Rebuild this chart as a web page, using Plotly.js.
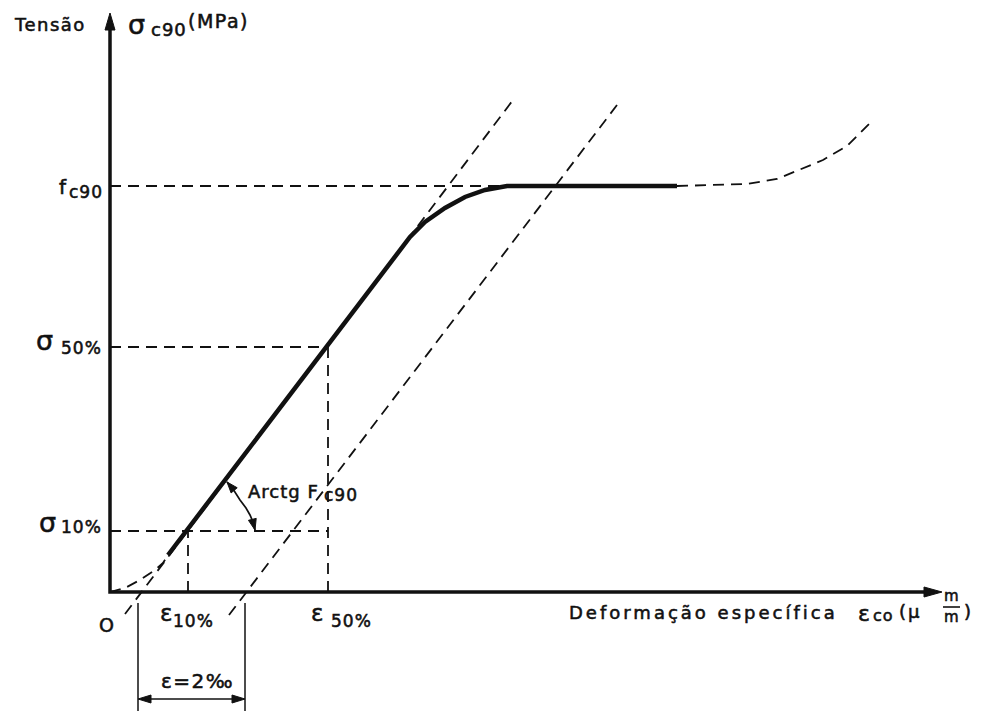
<!DOCTYPE html>
<html>
<head>
<meta charset="utf-8">
<script src="https://cdn.plot.ly/plotly-3.0.1.min.js"></script>
<style>
html,body{margin:0;padding:0;background:#fff;}
#chart{width:990px;height:711px;}
.annotation-text{stroke:#111;stroke-width:0.55px;}
</style>
</head>
<body>
<div id="chart"></div>
<script>
// ---- schematic values (strain units on x, stress units on y) ----
const refStressNames = ['fc90', 'sigma50', 'sigma10'];
const refStress = [406, 245, 61];
const refStressEnd = [397, 218, 218];
const refStrainNames = ['eps10', 'eps50'];
const refStrain = [78, 218];
const refStrainTop = [61, 245];

const toeStrain = [0, 15, 30, 45, 53, 58];
const toeStress = [0, 4, 12, 22, 29, 37];

const curveStrain = [58, 300, 315, 335, 355, 375, 397, 567];
const curveStress = [37, 355, 370, 384, 395, 402, 406, 406];

const tailStrain = [567, 637, 667, 713, 737, 763];
const tailStress = [406, 408, 413, 432, 446, 472];

const tangentStrain = [15, 403];
const tangentStress = [-22, 492];

const offsetLineStrain = [119, 507];
const offsetLineStress = [-23, 487];

const offsetBase = [28, 135];       // ends of the ε = 2‰ dimension
const dimLevel = -107;
const dimTop = -11;
const dimBottom = -119;

const arcStrain = [117, 123, 130, 136, 140, 143, 145];
const arcStress = [110, 103, 92, 84, 77, 70, 62];

const xAxisEnd = 832;
const yAxisEnd = 579;

// ---- helpers ----
const INK = '#111';
function tri(tx, ty, dx, dy, len, hw) {
  const n = Math.hypot(dx, dy); const ux = dx / n, uy = dy / n;
  const bx = tx - ux * len, by = ty - uy * len;
  return {
    x: [tx, bx - uy * hw, bx + uy * hw, tx],
    y: [ty, by + ux * hw, by - ux * hw, ty],
    type: 'scatter', mode: 'lines', fill: 'toself', fillcolor: INK,
    line: {color: INK, width: 1}, hoverinfo: 'skip'
  };
}
function dashed(x, y, w) {
  return {x: x, y: y, type: 'scatter', mode: 'lines',
    line: {color: INK, width: w || 1.8, dash: '11px,7px'}, hoverinfo: 'skip'};
}
function solid(x, y, w) {
  return {x: x, y: y, type: 'scatter', mode: 'lines',
    line: {color: INK, width: w}, hoverinfo: 'skip'};
}

const traces = [];
// reference level lines
refStress.forEach((s, i) => traces.push(dashed([0, refStressEnd[i]], [s, s])));
refStrain.forEach((e, i) => traces.push(dashed([e, e], [0, refStrainTop[i]])));
// construction lines
traces.push(dashed(toeStrain, toeStress));
traces.push(dashed(tangentStrain, tangentStress));
traces.push(dashed(offsetLineStrain, offsetLineStress));
traces.push(dashed(tailStrain, tailStress));
// main curve
traces.push(solid(curveStrain, curveStress, 4.5));
// axes
traces.push(solid([xAxisEnd - 14, 0, 0], [0, 0, yAxisEnd - 14], 3.5));
traces.push(tri(xAxisEnd, 0, 1, 0, 18, 5));
traces.push(tri(0, yAxisEnd, 0, 1, 17, 5));
// dimension ε = 2‰
offsetBase.forEach(b => traces.push(solid([b, b], [dimTop, dimBottom], 1.5)));
traces.push(solid([offsetBase[0] + 8, offsetBase[1] - 8], [dimLevel, dimLevel], 1.5));
traces.push(tri(offsetBase[0], dimLevel, -1, 0, 13, 4));
traces.push(tri(offsetBase[1], dimLevel, 1, 0, 13, 4));
// angle arc
traces.push(solid(arcStrain, arcStress, 1.7));
traces.push(tri(arcStrain[0], arcStress[0], arcStrain[0] - arcStrain[1], arcStress[0] - arcStress[1], 11, 4));
const L = arcStrain.length - 1;
traces.push(tri(arcStrain[L], arcStress[L], arcStrain[L] - arcStrain[L - 1], arcStress[L] - arcStress[L - 1], 11, 4));
// fraction bar of m/m
traces.push(solid([833, 850], [-15, -15], 1.6));

const F = 'DejaVu Sans, Verdana, sans-serif';
function lab(text, x, y, size, xa, extra) {
  return Object.assign({text: text, x: x, y: y, xref: 'x', yref: 'y',
    showarrow: false, xanchor: xa || 'left', yanchor: 'middle',
    font: {family: F, size: size, color: INK}, borderpad: 0}, extra || {});
}
const sp = (t, s) => '<span style="letter-spacing:' + s + 'px">' + t + '</span>';

const ann = [
  lab(sp('Tensão', 1.5), -97, 568, 18),
  lab('σ', 17, 568, 27),
  lab(sp('c90', 1), 40, 563, 18),
  lab(sp('(MPa)', 1.5), 77, 571, 19),
  lab('f', -42, refStress[0] - 1, 20, 'right'),
  lab(sp('c90', 1), -42, refStress[0] - 6, 17),
  lab('σ', -56, refStress[1] + 7, 27, 'right'),
  lab(sp('50%', 1), -50, refStress[1] - 1, 17),
  lab('σ', -53, refStress[2] + 9, 27, 'right'),
  lab(sp('10%', 1), -50, refStress[2] + 4, 17),
  lab('O', -4, -33, 19, 'center'),
  lab('ε', refStrain[0] - 22, -21, 23, 'center'),
  lab(sp('10%', 1), refStrain[0] - 16, -29, 17),
  lab('ε', refStrain[1] - 11, -21, 23, 'center'),
  lab(sp('50%', 1), refStrain[1] + 2, -29, 17),
  lab(sp('Deformação específica', 3), 458, -20, 18),
  lab('ε', 747, -21, 22),
  lab(sp('co', 1), 762, -23, 16),
  lab(sp('(μ', 2), 788, -19, 18),
  lab('m', 841, -4, 15, 'center'),
  lab('m', 841, -25, 15, 'center'),
  lab(')', 853, -19, 18),
  lab(sp('ε=2‰', 1.5), 87, -89, 20, 'center'),
  lab(sp('Arctg F', 1), 137, 101, 18),
  lab(sp('c90', 1), 213, 97, 17)
];

const layout = {
  width: 990, height: 711,
  margin: {l: 0, r: 0, t: 0, b: 0, pad: 0},
  paper_bgcolor: '#fff', plot_bgcolor: '#fff',
  showlegend: false, hovermode: false,
  xaxis: {range: [-110, 880], visible: false, fixedrange: true},
  yaxis: {range: [-119, 592], visible: false, fixedrange: true},
  annotations: ann
};
Plotly.newPlot('chart', traces, layout, {staticPlot: true, displayModeBar: false});
</script>
</body>
</html>
